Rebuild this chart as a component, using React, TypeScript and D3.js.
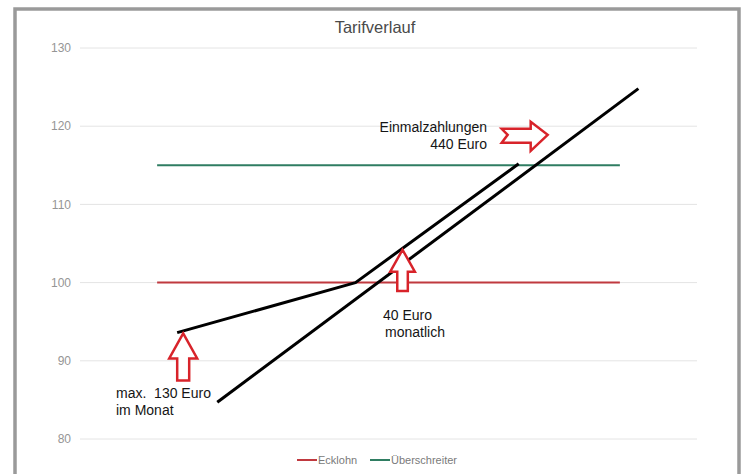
import * as d3 from "d3";
import React, {useEffect, useRef} from "react";

// periods on the x axis (no labels shown in the chart)
const periods = [0, 1, 2, 3];
const ecklohn = [100, 100, 100, 100];
const ueberschreiter = [115, 115, 115, 115];
const yTicks = [80, 90, 100, 110, 120, 130];

// hand-drawn overlay lines: [period position, value]
const lineMonthly: [number, number][] = [[0.13, 93.6], [1.286, 100], [2.344, 115.2]];
const lineOneOff: [number, number][] = [[0.39, 84.7], [3.12, 124.8]];

// red outline arrows: tip position, direction
const arrows = [
  {x: 0.169, y: 93.5, dir: "up"},
  {x: 1.591, y: 104.2, dir: "up"},
  {x: 2.532, y: 118.9, dir: "right"},
];

const notes = [
  {x: 116, y: 398, anchor: "start", lines: ["max.  130 Euro", "im Monat"]},
  {x: 383, y: 320, anchor: "start", lines: ["40 Euro", "monatlich"]},
  {x: 487, y: 132, anchor: "end", lines: ["Einmalzahlungen", "440 Euro"]},
];

const RED = "#c0393f";
const GREEN = "#2f7d62";

const TarifChart: React.FC = () => {
  const ref = useRef<SVGSVGElement | null>(null);

  useEffect(() => {
    const svg = d3.select(ref.current);
    svg.selectAll('*').remove();

    const width = 748;
    const height = 474;
    const font = "'Liberation Sans', Arial, sans-serif";

    svg.attr("width", width).attr("height", height).style("display", "block");

    svg.append("rect").attr("width", width).attr("height", height).attr("fill", "#fff");

    // frame
    svg.append("rect")
      .attr("x", 15).attr("y", 9)
      .attr("width", 724).attr("height", 480)
      .attr("fill", "#fff")
      .attr("stroke", "#9a9a9a")
      .attr("stroke-width", 3.5);

    const xScale = d3.scaleLinear().domain([-0.5, 3.5]).range([80, 697]);
    const yScale = d3.scaleLinear().domain([80, 130]).range([439, 48]);

    svg.append("text")
      .attr("x", 375).attr("y", 33)
      .attr("text-anchor", "middle")
      .attr("fill", "#4a4a4a")
      .style("font-family", font)
      .style("font-size", "16.5px")
      .text("Tarifverlauf");

    const grid = svg.append("g");
    grid.selectAll("line")
      .data(yTicks)
      .enter()
      .append("line")
      .attr("x1", xScale(-0.5)).attr("x2", xScale(3.5))
      .attr("y1", (d) => yScale(d)).attr("y2", (d) => yScale(d))
      .attr("stroke", "#e4e4e4")
      .attr("stroke-width", 1);

    grid.selectAll("text")
      .data(yTicks)
      .enter()
      .append("text")
      .attr("x", 71)
      .attr("y", (d) => yScale(d))
      .attr("dy", "0.35em")
      .attr("text-anchor", "end")
      .attr("fill", "#959595")
      .style("font-family", font)
      .style("font-size", "12px")
      .text((d) => d);

    const line = d3.line<number>()
      .x((_, i) => xScale(periods[i]))
      .y((d) => yScale(d));

    svg.append("path").datum(ecklohn)
      .attr("d", line).attr("fill", "none")
      .attr("stroke", RED).attr("stroke-width", 2);
    svg.append("path").datum(ueberschreiter)
      .attr("d", line).attr("fill", "none")
      .attr("stroke", GREEN).attr("stroke-width", 2);

    const overlay = d3.line<[number, number]>()
      .x((d) => xScale(d[0]))
      .y((d) => yScale(d[1]));

    [lineMonthly, lineOneOff].forEach((pts) => {
      svg.append("path").datum(pts)
        .attr("d", overlay).attr("fill", "none")
        .attr("stroke", "#000").attr("stroke-width", 3)
        .attr("stroke-linejoin", "round");
    });

    // arrow shapes relative to tip
    const upArrow = (s: number) =>
      `M0,0 L${14 * s},${25 * s} L${6 * s},${25 * s} L${6 * s},${47 * s} L${-6 * s},${47 * s} L${-6 * s},${25 * s} L${-14 * s},${25 * s} Z`;
    const rightArrow = "M0,0 L-17,16 L-17,8 L-46,8 L-40,0 L-46,-6 L-17,-6 L-17,-13 Z";

    arrows.forEach((a, i) => {
      svg.append("path")
        .attr("transform", `translate(${xScale(a.x)}, ${yScale(a.y)})`)
        .attr("d", a.dir === "up" ? upArrow(i === 0 ? 1 : 0.88) : rightArrow)
        .attr("fill", "#fff")
        .attr("stroke", "#d8232a")
        .attr("stroke-width", 2.5)
        .attr("stroke-linejoin", "miter");
    });

    notes.forEach((n) => {
      const t = svg.append("text")
        .attr("x", n.x).attr("y", n.y)
        .attr("text-anchor", n.anchor)
        .attr("fill", "#151515")
        .style("font-family", font)
        .style("font-size", "14px")
        .style("white-space", "pre");
      n.lines.forEach((l, i) => {
        t.append("tspan").attr("x", n.x + (n.anchor === "start" && i > 0 && n.x > 300 ? 2 : 0))
          .attr("dy", i === 0 ? 0 : 16.5).text(l);
      });
    });

    // legend
    const legend = [
      {name: "Ecklohn", color: RED, x: 297},
      {name: "Überschreiter", color: GREEN, x: 370},
    ];
    legend.forEach((l) => {
      svg.append("line")
        .attr("x1", l.x).attr("x2", l.x + 20)
        .attr("y1", 460).attr("y2", 460)
        .attr("stroke", l.color).attr("stroke-width", 2);
      svg.append("text")
        .attr("x", l.x + 21).attr("y", 460)
        .attr("dy", "0.35em")
        .attr("fill", "#7a7a7a")
        .style("font-family", font)
        .style("font-size", "11px")
        .text(l.name);
    });

    return () => {
      svg.selectAll('*').remove();
    };
  }, []);

  return <svg ref={ref} />;
};

export default function App() {
  return (
    <div style={{position: "absolute", left: 0, top: 0}}>
      <TarifChart />
    </div>
  );
}
